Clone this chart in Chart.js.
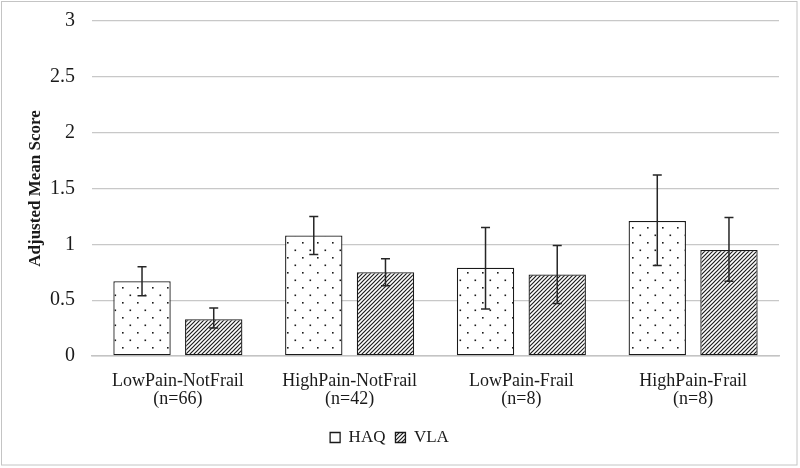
<!DOCTYPE html>
<html>
<head>
<meta charset="utf-8">
<script src="https://cdn.jsdelivr.net/npm/chart.js@4.4.1/dist/chart.umd.min.js"></script>
<style>
  html, body { margin: 0; padding: 0; background: #ffffff; }
  #c { display: block; }
</style>
</head>
<body>
<canvas id="c" width="800" height="468"></canvas>
<script>
// ---- data ----
const categories = [
  ['LowPain-NotFrail', '(n=66)'],
  ['HighPain-NotFrail', '(n=42)'],
  ['LowPain-Frail', '(n=8)'],
  ['HighPain-Frail', '(n=8)']
];
const seriesNames = ['HAQ', 'VLA'];
const haqValues = [0.67, 1.08, 0.79, 1.21];
const haqLower  = [0.54, 0.91, 0.42, 0.81];
const haqUpper  = [0.80, 1.25, 1.15, 1.62];
const vlaValues = [0.33, 0.75, 0.73, 0.95];
const vlaLower  = [0.25, 0.63, 0.47, 0.67];
const vlaUpper  = [0.43, 0.87, 0.99, 1.24];
const yTicks = [0, 0.5, 1, 1.5, 2, 2.5, 3];

// ---- patterns ----
function dotPattern() {
  const t = document.createElement('canvas');
  t.width = 15; t.height = 15;
  const g = t.getContext('2d');
  g.fillStyle = '#ffffff';
  g.fillRect(0, 0, 15, 15);
  g.fillStyle = '#1a1a1a';
  g.fillRect(2, 2, 1.6, 1.6);
  g.fillRect(9.5, 9.5, 1.6, 1.6);
  return g.createPattern(t, 'repeat');
}
function hatchPattern() {
  const s = 4;
  const t = document.createElement('canvas');
  t.width = s; t.height = s;
  const g = t.getContext('2d');
  g.fillStyle = '#ffffff';
  g.fillRect(0, 0, s, s);
  g.strokeStyle = '#1e1e1e';
  g.lineWidth = 1.2;
  g.beginPath();
  g.moveTo(-1, s + 1); g.lineTo(s + 1, -1);
  g.moveTo(-1, 1); g.lineTo(1, -1);
  g.moveTo(s - 1, s + 1); g.lineTo(s + 1, s - 1);
  g.stroke();
  return g.createPattern(t, 'repeat');
}
const ctx = document.getElementById('c').getContext('2d');
const haqFill = dotPattern();
const vlaFill = hatchPattern();

const errorBounds = [
  { lower: haqLower, upper: haqUpper },
  { lower: vlaLower, upper: vlaUpper }
];

const errorBarPlugin = {
  id: 'errorBars',
  afterDatasetsDraw(chart) {
    const c = chart.ctx;
    const y = chart.scales.y;
    c.save();
    c.strokeStyle = '#262626';
    c.lineWidth = 1.5;
    chart.data.datasets.forEach((ds, i) => {
      const meta = chart.getDatasetMeta(i);
      meta.data.forEach((el, j) => {
        const yt = y.getPixelForValue(errorBounds[i].upper[j]);
        const yb = y.getPixelForValue(errorBounds[i].lower[j]);
        const x = el.x;
        c.beginPath();
        c.moveTo(x, yt); c.lineTo(x, yb);
        c.moveTo(x - 4.5, yt); c.lineTo(x + 4.5, yt);
        c.moveTo(x - 4.5, yb); c.lineTo(x + 4.5, yb);
        c.stroke();
      });
    });
    c.restore();
  }
};

const frameBorderPlugin = {
  id: 'frameBorder',
  beforeDraw(chart) {
    const c = chart.ctx;
    c.save();
    c.fillStyle = '#ffffff';
    c.fillRect(0, 0, chart.width, chart.height);
    c.strokeStyle = '#c4c4c4';
    c.lineWidth = 1;
    c.strokeRect(1.5, 1.5, 795.5, 463.5);
    c.restore();
  }
};

new Chart(ctx, {
  type: 'bar',
  data: {
    labels: categories,
    datasets: [
      {
        label: seriesNames[0],
        data: haqValues,
        backgroundColor: haqFill,
        borderColor: '#1a1a1a',
        borderWidth: 1.3,
        borderSkipped: false,
        categoryPercentage: 0.835,
        barPercentage: 0.8
      },
      {
        label: seriesNames[1],
        data: vlaValues,
        backgroundColor: vlaFill,
        borderColor: '#1a1a1a',
        borderWidth: 1.3,
        borderSkipped: false,
        categoryPercentage: 0.835,
        barPercentage: 0.8
      }
    ]
  },
  options: {
    responsive: false,
    animation: false,
    devicePixelRatio: 1,
    layout: { padding: { left: 0, right: 21, top: 21, bottom: 12 } },
    plugins: {
      tooltip: { enabled: false },
      legend: {
        position: 'bottom',
        labels: {
          boxWidth: 10,
          boxHeight: 10,
          padding: 10,
          color: '#1a1a1a',
          font: { family: 'Liberation Serif', size: 17 },
          generateLabels(chart) {
            const items = Chart.defaults.plugins.legend.labels.generateLabels(chart);
            items.forEach((it, i) => {
              if (i === 0) it.fillStyle = '#ffffff';
              it.lineWidth = 1.3;
              it.strokeStyle = '#1a1a1a';
            });
            return items;
          }
        }
      }
    },
    scales: {
      x: {
        grid: { display: false, drawTicks: false },
        border: { display: true, color: '#c4c4c4', width: 1.5 },
        ticks: {
          color: '#1a1a1a',
          padding: 16,
          maxRotation: 0,
          autoSkip: false,
          font: { family: 'Liberation Serif', size: 18, lineHeight: 1.0 }
        },
        afterFit(scale) { scale.height = 63; }
      },
      y: {
        min: 0,
        max: 3,
        afterBuildTicks(scale) { scale.ticks = yTicks.map(v => ({ value: v })); },
        grid: { color: '#c8c8c8', lineWidth: 1.3, drawTicks: false },
        border: { display: false },
        ticks: {
          color: '#1a1a1a',
          padding: 17,
          font: { family: 'Liberation Serif', size: 20 },
          callback: (v) => String(v)
        },
        title: {
          display: true,
          text: 'Adjusted Mean Score',
          color: '#1a1a1a',
          padding: { top: 25, bottom: 0 },
          font: { family: 'Liberation Serif', size: 17, weight: 'bold' }
        },
        afterFit(scale) {
          scale.width = 92;
          scale.paddingTop = 0;
          scale.paddingBottom = 0;
        }
      }
    }
  },
  plugins: [frameBorderPlugin, errorBarPlugin]
});
</script>
</body>
</html>
